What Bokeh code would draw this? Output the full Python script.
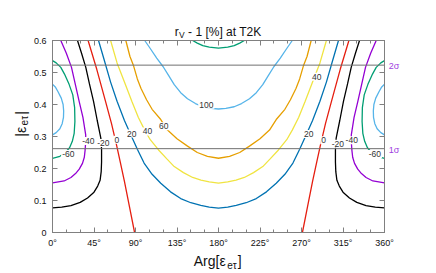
from bokeh.plotting import figure
from bokeh.models import Range1d, LinearAxis, FixedTicker, Label
from bokeh.embed import file_html
from bokeh.resources import INLINE
import math

# ---- contour lines (phi in degrees, |eps|); left half, mirrored at 180 deg ----
phi_m80 = [0, 4, 8, 10.5, 11.9, 12.1, 11.5, 9.5, 6, 3, 0]
eps_m80 = [0.305, 0.312, 0.324, 0.34, 0.36, 0.38, 0.40, 0.42, 0.44, 0.455, 0.463]

phi_m60 = [0, 8, 14, 18.5, 21.5, 23.5, 24.3, 24, 22, 18, 13, 9, 4, 0]
eps_m60 = [0.232, 0.238, 0.25, 0.265, 0.285, 0.31, 0.347, 0.39, 0.43, 0.463, 0.495, 0.516, 0.53, 0.537]

phi_m40 = [0, 12.6, 20, 25, 29, 32.5, 34.5, 35.4, 36, 36, 33, 28.9, 25, 20.6, 15, 9]
eps_m40 = [0.155, 0.161, 0.172, 0.184, 0.198, 0.216, 0.235, 0.258, 0.285, 0.305, 0.36, 0.41, 0.46, 0.516, 0.56, 0.6]

phi_m20 = [0, 10, 20, 30, 38, 45, 49, 51.6, 52.8, 53.2, 53.2, 52.4, 48.5, 44.5, 40, 36.1, 31.5, 27.1]
eps_m20 = [0.077, 0.079, 0.084, 0.094, 0.108, 0.126, 0.145, 0.163, 0.19, 0.22, 0.26, 0.295, 0.35, 0.41, 0.465, 0.516, 0.56, 0.6]

phi_0 = [89, 83.5, 78, 73.5, 69.4, 64, 57.5, 48, 38.6]
eps_0 = [0.0, 0.08, 0.16, 0.22, 0.274, 0.34, 0.41, 0.51, 0.6]

phi_20 = [49.9, 56, 63, 70, 78, 85, 92, 99.3, 108, 117.4, 128, 139, 150, 160.8, 170, 180]
eps_20 = [0.6, 0.54, 0.47, 0.41, 0.35, 0.305, 0.26, 0.217, 0.182, 0.154, 0.127, 0.106, 0.093, 0.085, 0.079, 0.076]

phi_40 = [63, 70, 78, 86, 93, 100, 106, 115, 124, 132, 142, 152, 161, 170, 180]
eps_40 = [0.6, 0.53, 0.47, 0.41, 0.36, 0.32, 0.29, 0.258, 0.23, 0.206, 0.187, 0.172, 0.164, 0.158, 0.154]

phi_60 = [79.5, 84, 88, 92, 96, 102, 108, 117.4, 124.7, 135, 146.4, 157, 168, 180]
eps_60 = [0.6, 0.55, 0.52, 0.48, 0.45, 0.415, 0.385, 0.353, 0.32, 0.293, 0.27, 0.25, 0.238, 0.232]

phi_100 = [100, 106, 113, 120, 126, 132, 139, 146.4, 155, 163, 172, 180]
eps_100 = [0.6, 0.575, 0.545, 0.518, 0.49, 0.462, 0.437, 0.418, 0.403, 0.393, 0.388, 0.386]

phi_120 = [152, 157, 163, 170, 180]
eps_120 = [0.6, 0.592, 0.584, 0.579, 0.576]

# sigma lines
sigma_levels = [0.262, 0.523]
sigma_names = ["1σ", "2σ"]

# contour labels
lab_text = ["-60", "-40", "-20", "0", "20", "40", "60", "100",
            "40", "20", "0", "-20", "-40", "-60"]
lab_phi = [17.1, 38.8, 55.1, 69.7, 86, 103, 120.7, 166.8,
           286.5, 277.9, 294, 309.4, 324.5, 349.5]
lab_eps = [0.245, 0.286, 0.28, 0.29, 0.309, 0.316, 0.332, 0.399,
           0.487, 0.308, 0.288, 0.277, 0.288, 0.245]

# ticks
x_ticks = [0, 45, 90, 135, 180, 225, 270, 315, 360]
x_tick_labels = ["0°", "45°", "90°", "135°", "180°", "225°", "270°", "315°", "360°"]
x_minor = list(range(0, 361, 15))
y_ticks = [0, 0.1, 0.2, 0.3, 0.4, 0.5, 0.6]
y_tick_labels = ["0", "0.1", "0.2", "0.3", "0.4", "0.5", "0.6"]

PURPLE = "#9400D3"; GREEN = "#009E73"; SKY = "#56B4E9"; ORANGE = "#E69F00"
YELLOW = "#F0E442"; BLUE = "#0072B2"; RED = "#E51E10"; BLACK = "#000000"
FONT = "Liberation Sans"
AX = "#808080"
TXT = "#111111"

p = figure(frame_width=332, frame_height=192, x_range=Range1d(0, 360), y_range=Range1d(0, 0.6),
           output_backend="svg", toolbar_location=None,
           min_border_left=52, min_border_right=52, min_border_top=40, min_border_bottom=41)
p.grid.visible = False
p.outline_line_color = AX
p.background_fill_color = "white"
p.border_fill_color = "white"

p.add_layout(LinearAxis(), "above")
p.add_layout(LinearAxis(), "right")
for ax in p.xaxis:
    ax.ticker = FixedTicker(ticks=x_ticks, minor_ticks=x_minor)
    ax.major_label_overrides = dict(zip(x_ticks, x_tick_labels))
    ax.minor_tick_in = 3
    ax.minor_tick_out = 0
    ax.minor_tick_line_color = AX
for ax in p.yaxis:
    ax.ticker = FixedTicker(ticks=y_ticks, minor_ticks=[])
    ax.major_label_overrides = dict(zip(y_ticks, y_tick_labels))
    ax.minor_tick_line_color = None
for ax in list(p.xaxis) + list(p.yaxis):
    ax.axis_line_color = AX
    ax.major_tick_line_color = AX
    ax.major_tick_in = 5
    ax.major_tick_out = 0
    ax.major_label_text_font = FONT
    ax.major_label_text_font_size = "9px"
    ax.major_label_text_color = TXT
    ax.major_label_standoff = 5
for ax in (p.above[0], p.right[0]):
    ax.major_label_text_color = None
    ax.major_label_standoff = 0
p.yaxis[0].major_label_standoff = 6


def draw(phis, epss, color, closed_half=True):
    if closed_half:
        # curve reaching 180 deg: complete with its mirror image
        xs = list(phis) + [360 - v for v in reversed(phis[:-1])]
        ys = list(epss) + list(reversed(epss[:-1]))
        p.line(xs, ys, line_color=color, line_width=1.3)
    else:
        p.line(phis, epss, line_color=color, line_width=1.3)
        p.line([360 - v for v in phis], epss, line_color=color, line_width=1.3)


draw(phi_m80, eps_m80, SKY, False)
draw(phi_m60, eps_m60, GREEN, False)
draw(phi_m40, eps_m40, PURPLE, False)
draw(phi_m20, eps_m20, BLACK, False)
draw(phi_0, eps_0, RED, False)
draw(phi_20, eps_20, BLUE)
draw(phi_40, eps_40, YELLOW)
draw(phi_60, eps_60, ORANGE)
draw(phi_100, eps_100, SKY)
draw(phi_120, eps_120, GREEN)

for lv in sigma_levels:
    p.line([0, 360], [lv, lv], line_color="#707070", line_width=1)

for t, x, y in zip(lab_text, lab_phi, lab_eps):
    p.add_layout(Label(x=x, y=y, text=t, text_font=FONT, text_font_size="8.5px",
                       text_color="#333333", text_align="center", text_baseline="middle",
                       background_fill_color="white", padding=1))


# texts outside the frame go into the below panel (not clipped, positioned in data units)
def side_label(x, y, text, size, angle=0.0, color=TXT, baseline="alphabetic"):
    p.add_layout(Label(x=x, y=y, text=text, text_font=FONT, text_font_size=size,
                       text_color=color, text_align="left", text_baseline=baseline,
                       angle=angle), "below")


for lv, nm in zip(sigma_levels, sigma_names):
    side_label(364.6, lv - 0.003, nm, "9px", color="#A040E0", baseline="middle")

# title  r_V - 1 [%] at T2K
side_label(132.6, 0.6275, "r", "12px")
side_label(137.3, 0.618, "V", "8.5px")
side_label(147.0, 0.6275, "- 1 [%] at T2K", "12px")

# x axis label  Arg[eps_etau]
side_label(153.2, -0.0894, "Arg[ε", "14px")
side_label(189.5, -0.102, "eτ", "10px")
side_label(201.0, -0.0894, "]", "14px")

# y axis label |eps_etau| (rotated)
side_label(-34.4, 0.2993, "|ε", "14px", math.pi / 2)
side_label(-30.6, 0.3347, "eτ", "10px", math.pi / 2)
side_label(-34.4, 0.3682, "|", "14px", math.pi / 2)

open("out.html", "w").write(file_html(p, INLINE))
